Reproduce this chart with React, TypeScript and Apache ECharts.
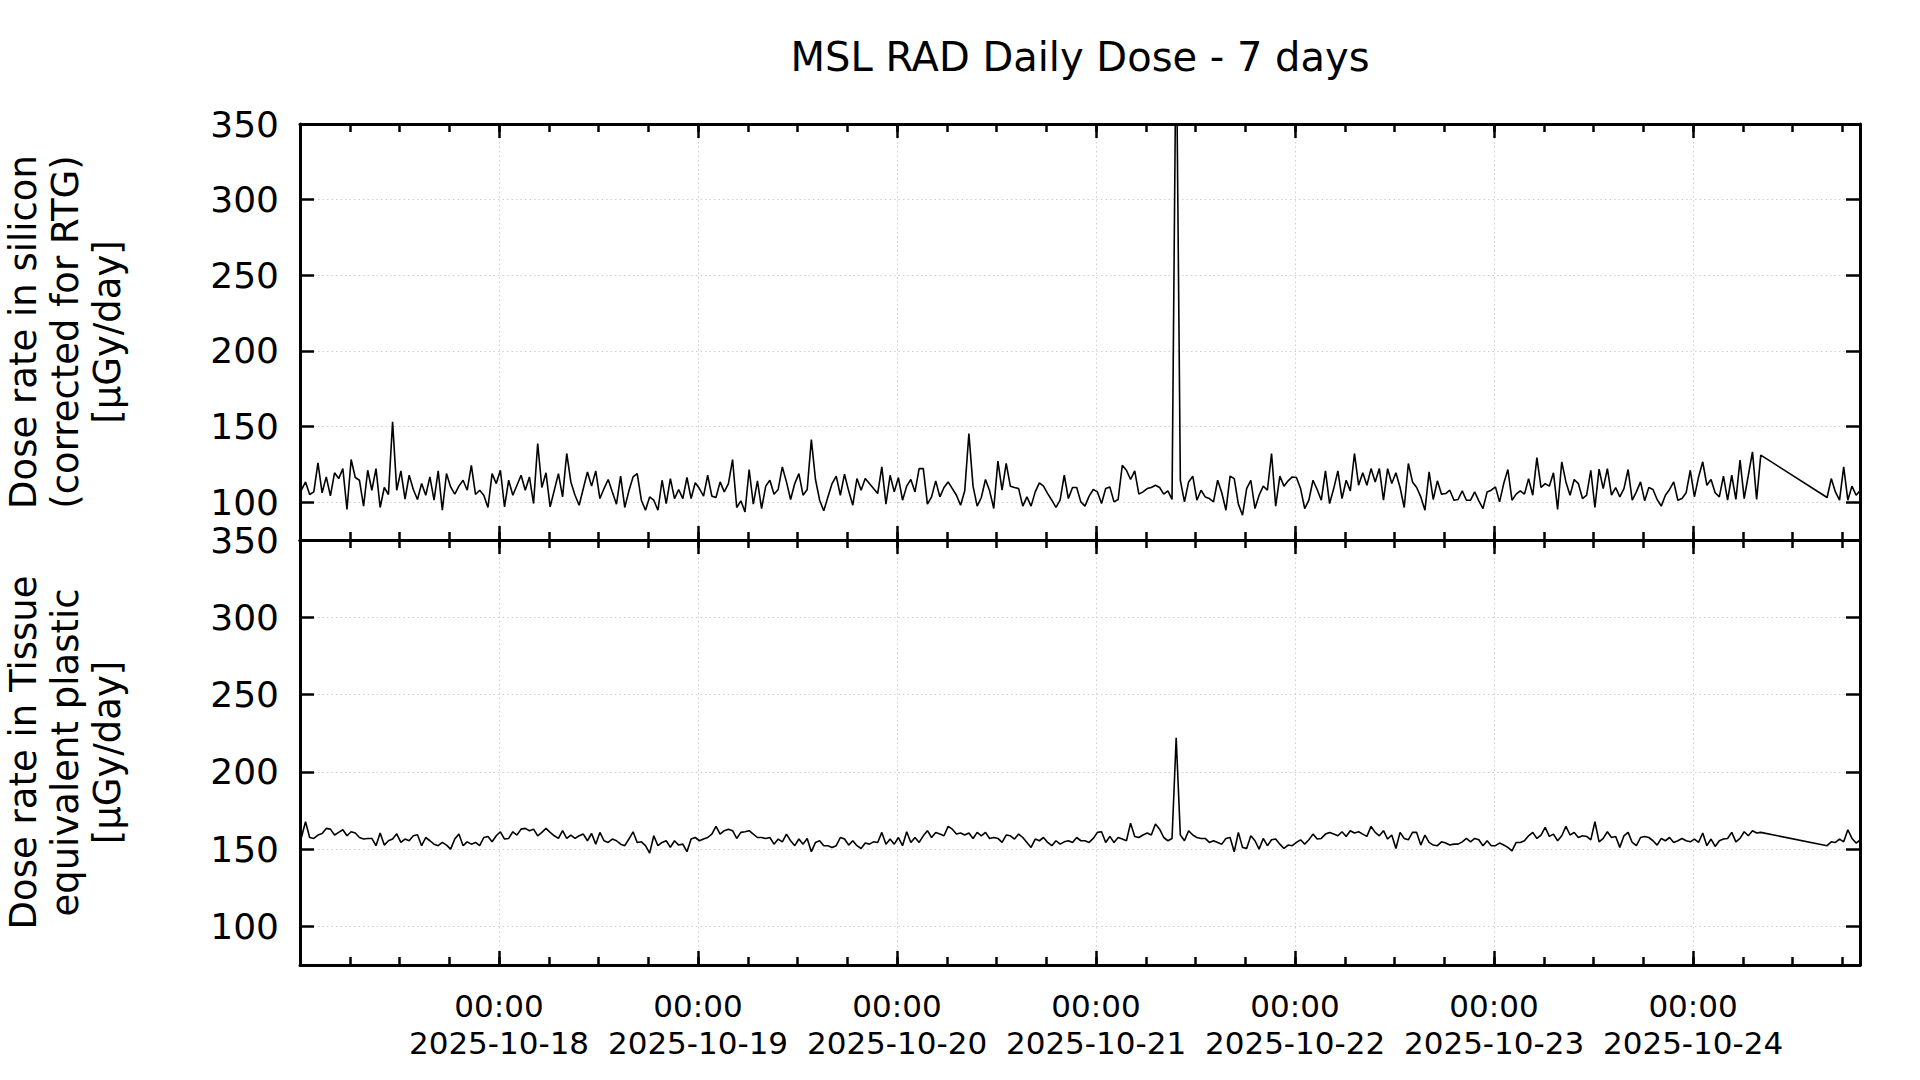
import React, { useEffect, useRef } from 'react';
import * as echarts from 'echarts';

const chartTitle = 'MSL RAD Daily Dose - 7 days';
const siliconAxisName = 'Dose rate in silicon\n(corrected for RTG)\n[µGy/day]';
const tissueAxisName = 'Dose rate in Tissue\nequivalent plastic\n[µGy/day]';

const yMin = 75;
const yMax = 350;
const axisStartUTC = Date.UTC(2025, 9, 17, 0, 0);
const axisEndUTC = Date.UTC(2025, 9, 24, 20, 8);
const firstSampleUTC = Date.UTC(2025, 9, 17, 0, 10);
const sampleStepMs = 30 * 60 * 1000;
const dayMs = 24 * 3600 * 1000;
const sixHoursMs = 6 * 3600 * 1000;

// Dose rate in silicon (corrected for RTG), µGy/day, one value per 30 min sample
const siliconDose: (number | null)[] = [
  107.9, 113.4, 105.1, 106.8, 126.0, 106.2, 116.7, 104.2, 119.4, 115.6,
  122.2, 95.2, 128.2, 116.3, 114.5, 97.4, 121.1, 107.9, 122.2, 96.5,
  109.7, 105.1, 153.1, 107.9, 120.7, 102.0, 117.8, 108.4, 101.8, 112.3,
  104.6, 116.7, 101.3, 120.7, 94.7, 118.9, 110.1, 105.3, 110.6, 114.5,
  107.9, 124.4, 105.1, 107.9, 104.6, 96.5, 118.9, 112.3, 121.1, 96.9,
  114.5, 104.6, 111.2, 117.8, 107.9, 116.7, 99.1, 138.8, 109.7, 119.4,
  96.9, 107.9, 118.9, 103.5, 132.2, 113.4, 104.6, 98.0, 109.0, 120.0,
  110.6, 120.7, 102.4, 109.0, 115.0, 106.8, 98.7, 117.2, 96.5, 107.5,
  116.7, 118.9, 101.3, 94.7, 103.5, 101.3, 94.7, 114.5, 99.1, 115.6,
  102.4, 108.4, 102.4, 116.3, 102.4, 112.8, 109.0,
  104.0, 117.8, 104.0, 103.1, 113.4, 106.8, 112.3, 128.2, 96.5, 100.9,
  93.6, 121.6, 98.7, 114.1, 95.8, 110.6, 114.5, 105.3, 108.4, 123.3,
  113.4, 101.8, 112.3, 118.9, 104.6, 108.4, 141.4, 115.0, 101.3, 94.3,
  103.5, 112.3, 117.2, 104.6, 118.5, 107.5, 98.0, 115.6, 107.9, 115.6,
  112.3, 109.0, 105.7, 123.3, 98.7, 117.8, 106.8, 116.3, 101.3, 110.6,
  115.0, 106.8, 122.2, 122.2, 98.7, 103.5, 114.1, 103.5, 109.7, 113.4,
  109.0, 104.6, 98.0, 107.5, 145.4, 110.6, 97.4, 103.1, 115.0, 107.5,
  95.8, 127.1, 107.9, 125.6, 110.6, 109.7, 109.0, 97.4, 103.5, 97.4,
  106.8, 112.8, 110.6, 105.7, 101.3, 96.5, 101.3, 117.8, 102.4, 109.7,
  109.7, 100.2, 97.4, 104.0,
  108.4, 106.8, 99.1, 109.0, 110.1, 100.2, 101.8, 124.4, 121.1, 115.0,
  120.7, 105.3, 106.8, 109.0, 109.7, 111.2, 109.7, 105.3, 107.5, 101.8,
  420.0, 114.5, 100.2, 113.4, 117.2, 101.3, 107.9, 103.5, 102.4, 100.2,
  114.5, 106.2, 94.7, 117.2, 115.6, 98.7, 91.4, 109.0, 114.5, 95.8,
  104.6, 110.6, 107.9, 132.2, 97.4, 117.2, 110.6, 114.1, 116.7, 116.3,
  109.0, 95.8, 101.3, 114.5, 108.4, 101.3, 120.7, 99.1, 109.0, 120.7,
  102.4, 114.5, 107.5, 132.2, 111.2, 119.4, 111.2, 122.2, 113.4, 122.2,
  101.3, 122.2, 112.3, 119.4, 109.7, 96.5, 125.6, 113.4, 109.7, 103.5,
  94.7, 120.0, 101.8, 114.1, 105.3, 105.7, 107.9, 101.3, 101.8, 107.5,
  101.3, 101.3, 106.8, 100.9,
  95.8, 106.8, 107.9, 110.1, 100.2, 112.3, 121.6, 101.3, 105.3, 107.5,
  105.3, 115.6, 104.6, 129.5, 109.7, 112.3, 110.6, 119.4, 95.2, 126.7,
  113.4, 104.6, 115.0, 112.3, 102.4, 104.6, 121.1, 96.5, 121.8, 109.0,
  122.2, 104.6, 109.7, 103.5, 109.0, 121.6, 101.3, 106.8, 113.4, 100.9,
  109.7, 108.4, 101.8, 97.4, 104.6, 108.4, 113.4, 101.3, 102.4, 106.2,
  121.1, 103.5, 116.7, 126.7, 111.2, 115.0, 106.2, 103.5, 117.2, 101.3,
  117.8, 101.8, 127.8, 102.4, 117.8, 133.3, 101.8, 131.1,
  null, null, null, null, null, null, null, null, null, null,
  null, null, null, null, null,
  103.1, 115.6, 106.8, 101.3, 123.3, 101.3, 110.6, 104.6, 107.9,
];

// Dose rate in tissue equivalent plastic, µGy/day, same sample times
const tissueDose: (number | null)[] = [
  157.5, 167.7, 157.5, 156.9, 159.1, 160.1, 163.4, 162.9, 159.1, 160.8,
  162.5, 158.6, 161.2, 160.4, 157.5, 156.5, 156.9, 156.9, 152.2, 160.4,
  152.6, 155.4, 156.5, 159.9, 154.3, 156.5, 155.4, 158.6, 159.3, 152.2,
  157.5, 155.4, 153.2, 152.2, 154.3, 152.6, 150.0, 156.5, 159.7, 152.2,
  154.7, 153.2, 154.3, 152.2, 157.5, 158.2, 154.7, 158.6, 161.2, 156.5,
  156.9, 161.2, 159.1, 162.9, 163.4, 161.9, 162.9, 158.6, 160.8, 163.4,
  160.8, 158.6, 156.9, 161.9, 156.9, 159.1, 156.9, 158.6, 159.7, 155.4,
  160.1, 153.2, 160.8, 155.4, 154.3, 156.5, 155.4, 153.2, 152.2, 156.5,
  161.2, 154.3, 154.7, 152.2, 147.4, 158.6, 152.2, 154.3, 155.4, 151.1,
  155.4, 152.6, 153.2, 148.3, 156.5, 157.5, 155.4, 156.5, 157.5, 159.7,
  164.7, 159.7, 161.9, 162.9, 161.9, 156.9, 160.8, 161.2, 161.9, 159.7,
  157.5, 157.5, 156.9, 157.5, 153.2, 156.5, 154.7, 159.7, 155.4, 152.2,
  156.5, 153.2, 156.9, 148.3, 154.3, 155.4, 152.2, 152.2, 151.1, 152.2,
  157.5, 156.5, 152.6, 155.4, 152.2, 150.4, 153.9, 153.2, 154.7, 154.3,
  160.8, 153.2, 156.5, 153.2, 157.5, 152.2, 161.2, 154.3, 157.5, 154.3,
  158.6, 161.9, 157.5, 160.8, 159.7, 158.6, 164.7, 162.9, 159.7, 160.4,
  159.1, 160.4, 156.9, 160.8, 158.6, 160.8, 156.9, 157.5, 156.9, 154.3,
  159.1, 158.6, 156.5, 159.7, 157.5, 154.3, 151.1, 156.5, 155.4, 157.5,
  154.3, 152.2, 155.4, 153.2, 154.7, 155.4, 154.3, 157.5,
  155.4, 155.4, 154.3, 156.9, 160.8, 161.2, 154.3, 158.2, 154.3, 157.5,
  156.5, 155.4, 166.8, 158.2, 157.5, 159.1, 160.4, 159.1, 166.2, 162.9,
  157.5, 155.4, 156.9, 222.0, 159.1, 155.4, 161.9, 159.1, 157.5, 156.9,
  156.9, 154.3, 155.4, 154.3, 153.2, 156.9, 157.5, 148.3, 160.8, 151.1,
  150.4, 158.6, 155.4, 150.0, 156.9, 152.2, 156.0, 156.5, 153.2, 150.4,
  152.6, 152.2, 154.3, 156.0, 153.2, 156.0, 159.7, 156.5, 156.9, 159.7,
  160.8, 159.7, 158.6, 161.2, 158.2, 161.9, 160.4, 161.2, 159.7, 158.2,
  164.7, 160.8, 158.6, 161.9, 156.5, 159.1, 150.4, 160.8, 156.9, 156.0,
  160.8, 160.8, 152.6, 159.1, 154.3, 152.6, 152.2, 154.7, 153.9, 152.6,
  153.2, 153.2, 154.7, 156.9, 154.7, 156.9, 156.0, 152.2, 155.4, 152.2,
  152.2, 153.9, 152.6, 151.1, 148.9, 154.3, 154.3, 155.4, 158.6, 160.8,
  156.9, 159.1, 164.0, 158.2, 159.7, 155.4, 158.6, 164.7, 159.1, 160.8,
  157.5, 158.6, 158.2, 156.0, 167.7, 154.7, 156.9, 161.2, 157.5, 158.2,
  151.1, 158.6, 160.8, 154.3, 152.2, 157.5, 158.2, 157.5, 155.4, 152.6,
  156.9, 155.4, 157.5, 154.3, 155.4, 156.9, 155.4, 154.7, 156.5, 154.3,
  160.4, 152.2, 156.5, 151.7, 155.4, 156.5, 156.9, 160.8, 154.7, 156.9,
  161.2, 158.6, 161.9, 160.4, 160.8,
  null, null, null, null, null, null, null, null, null, null,
  null, null, null, null, null,
  152.2, 154.7, 154.3, 156.5, 154.7, 162.5, 156.9, 153.9, 156.0,
];

const FONT = 'DejaVu Sans';
const gridDash = [1.5, 3];

function pad2(n: number) {
  return n < 10 ? '0' + n : String(n);
}

function dayLabel(v: number) {
  if (v === axisStartUTC) return '';
  const d = new Date(v);
  if (d.getUTCHours() !== 0 || d.getUTCMinutes() !== 0) return '';
  const hm = pad2(d.getUTCHours()) + ':' + pad2(d.getUTCMinutes());
  const ymd = d.getUTCFullYear() + '-' + pad2(d.getUTCMonth() + 1) + '-' + pad2(d.getUTCDate());
  return hm + '\n' + ymd;
}

function xAxes(gridIndex: number, position: 'top' | 'bottom', withLabels: boolean, withGrid: boolean) {
  const base = {
    type: 'value',
    gridIndex,
    position,
    min: axisStartUTC,
    max: axisEndUTC,
  };
  return [
    {
      ...base,
      interval: dayMs,
      axisLine: { show: true, onZero: false, lineStyle: { color: '#000', width: 3 } },
      axisTick: { show: true, inside: true, length: 14, lineStyle: { color: '#000', width: 2.5 } },
      axisLabel: withLabels
        ? {
            show: true,
            formatter: (v: number) => dayLabel(v),
            color: '#000',
            fontFamily: FONT,
            fontSize: 31,
            lineHeight: 37,
            margin: 22,
          }
        : { show: false },
      splitLine: withGrid
        ? { show: true, lineStyle: { color: '#cfcfcf', width: 1, type: gridDash } }
        : { show: false },
    },
    {
      ...base,
      interval: sixHoursMs,
      axisLine: { show: false, onZero: false },
      axisTick: { show: true, inside: true, length: 8, lineStyle: { color: '#000', width: 2.5 } },
      axisLabel: { show: false },
      splitLine: { show: false },
    },
  ];
}

function yAxes(gridIndex: number, name: string) {
  return [
    {
      type: 'value',
      gridIndex,
      position: 'left',
      min: yMin,
      max: yMax,
      splitNumber: 5,
      name,
      nameLocation: 'middle',
      nameRotate: 90,
      nameGap: 172,
      nameTextStyle: { color: '#000', fontFamily: FONT, fontSize: 37, lineHeight: 42 },
      axisLine: { show: true, onZero: false, lineStyle: { color: '#000', width: 3 } },
      axisTick: { show: true, inside: true, length: 14, lineStyle: { color: '#000', width: 2.5 } },
      axisLabel: {
        show: true,
        formatter: (v: number) => (v === yMin ? '' : String(v)),
        color: '#000',
        fontFamily: FONT,
        fontSize: 36,
        margin: 21,
      },
      splitLine: { show: true, lineStyle: { color: '#cfcfcf', width: 1, type: gridDash } },
    },
    {
      type: 'value',
      gridIndex,
      position: 'right',
      min: yMin,
      max: yMax,
      splitNumber: 5,
      axisLine: { show: true, onZero: false, lineStyle: { color: '#000', width: 3 } },
      axisTick: { show: true, inside: true, length: 14, lineStyle: { color: '#000', width: 2.5 } },
      axisLabel: { show: false },
      splitLine: { show: false },
    },
  ];
}

export default function App() {
  const ref = useRef<HTMLDivElement>(null);

  useEffect(() => {
    if (!ref.current) return;
    const chart = echarts.init(ref.current, null, { renderer: 'svg' });

    const siliconData = siliconDose.map((v, i) => [firstSampleUTC + i * sampleStepMs, v]);
    const tissueData = tissueDose.map((v, i) => [firstSampleUTC + i * sampleStepMs, v]);

    const option = {
      animation: false,
      backgroundColor: '#ffffff',
      graphic: [
        {
          type: 'text',
          x: 1080,
          y: 57,
          style: {
            text: chartTitle,
            fill: '#000',
            font: '40px "DejaVu Sans"',
            textAlign: 'center',
            textVerticalAlign: 'middle',
            align: 'center',
            verticalAlign: 'middle',
          },
        },
      ],
      grid: [
        { left: 300, top: 124, width: 1560, height: 416, containLabel: false, outerBoundsMode: 'none' },
        { left: 300, top: 540, width: 1560, height: 425, containLabel: false, outerBoundsMode: 'none' },
      ],
      xAxis: [
        ...xAxes(0, 'bottom', false, true),
        ...xAxes(0, 'top', false, false),
        ...xAxes(1, 'bottom', true, true),
        ...xAxes(1, 'top', false, false),
      ],
      yAxis: [...yAxes(0, siliconAxisName), ...yAxes(1, tissueAxisName)],
      series: [
        {
          type: 'line',
          xAxisIndex: 0,
          yAxisIndex: 0,
          data: siliconData,
          showSymbol: false,
          symbol: 'none',
          connectNulls: true,
          clip: true,
          lineStyle: { color: '#000', width: 1.6 },
          z: 5,
        },
        {
          type: 'line',
          xAxisIndex: 4,
          yAxisIndex: 2,
          data: tissueData,
          showSymbol: false,
          symbol: 'none',
          connectNulls: true,
          clip: true,
          lineStyle: { color: '#000', width: 1.6 },
          z: 5,
        },
      ],
    };

    chart.setOption(option as any);
    return () => {
      chart.dispose();
    };
  }, []);

  return (
    <div
      ref={ref}
      style={{ position: 'fixed', left: 0, top: 0, width: 1920, height: 1080, background: '#fff' }}
    />
  );
}
